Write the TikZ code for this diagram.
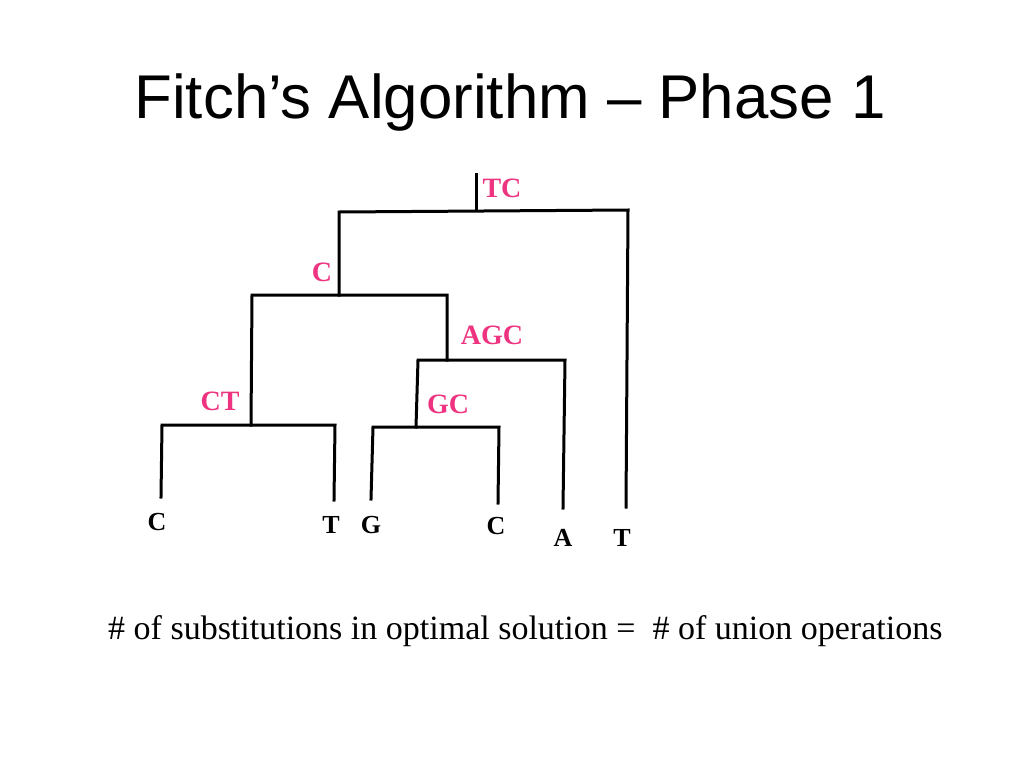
\documentclass[tikz,border=0pt]{standalone}
\usepackage{fontspec}
\setmainfont{Liberation Serif}
\newfontfamily\titlefont{Liberation Sans}
\definecolor{pinklbl}{RGB}{238,52,128}
\begin{document}
\begin{tikzpicture}[x=1pt,y=-1pt,
  branch/.style={line width=3pt,line cap=rect,line join=miter},
  inner/.style={text=pinklbl,font=\fontsize{28}{30}\selectfont\bfseries,inner sep=0pt,anchor=center},
  leaf/.style={text=black,font=\fontsize{26}{28}\selectfont\bfseries,inner sep=0pt,anchor=center}]
\useasboundingbox[fill=white] (0,0) rectangle (1024,768);
\node[anchor=base,inner sep=0pt,font=\titlefont\fontsize{61.8}{70}\selectfont] (title) at (510,118) {Fitch’s Algorithm – Phase 1};
% tree coordinates
\coordinate (r0) at (476,174);
\coordinate (r1) at (476,210);
\coordinate (tl) at (339,212);
\coordinate (tr) at (628,210);
\coordinate (lT2) at (626,507);
\coordinate (cC) at (339,295);
\coordinate (bl) at (252,295);
\coordinate (br) at (447,295);
\coordinate (ctT) at (251,425);
\coordinate (ctl) at (162,425);
\coordinate (ctr) at (335,425);
\coordinate (lC1) at (161,497);
\coordinate (lT1) at (334,500);
\coordinate (agT) at (447,360);
\coordinate (agl) at (418,360);
\coordinate (agr) at (565,360);
\coordinate (lA) at (563,508);
\coordinate (gcT) at (416,427);
\coordinate (gcl) at (373,427);
\coordinate (gcr) at (499,427);
\coordinate (lG) at (371,499);
\coordinate (lC2) at (498,503);
\draw[branch] (r0) -- (r1);
\draw[branch] (lT2) -- (tr) -- (tl) -- (cC);
\draw[branch] (ctT) -- (bl) -- (br) -- (agT);
\draw[branch] (lC1) -- (ctl) -- (ctr) -- (lT1);
\draw[branch] (gcT) -- (agl) -- (agr) -- (lA);
\draw[branch] (lG) -- (gcl) -- (gcr) -- (lC2);
% labels
\node[inner] (tc) at (502,188) {TC};
\node[inner] (c) at (322,272) {C};
\node[inner] (agc) at (492,335) {AGC};
\node[inner] (ct) at (220,401) {CT};
\node[inner] (gc) at (448,404) {GC};
\node[leaf] (n1) at (157,522) {C};
\node[leaf] (n2) at (331,525) {T};
\node[leaf] (n3) at (371,525) {G};
\node[leaf] (n4) at (496,526) {C};
\node[leaf] (n5) at (563,538) {A};
\node[leaf] (n6) at (622,538) {T};
\node[anchor=base west,inner sep=0pt,font=\fontsize{34}{36}\selectfont] (note) at (108,639) {\# of substitutions in optimal solution =\ \ \# of union operations};
\end{tikzpicture}
\end{document}
